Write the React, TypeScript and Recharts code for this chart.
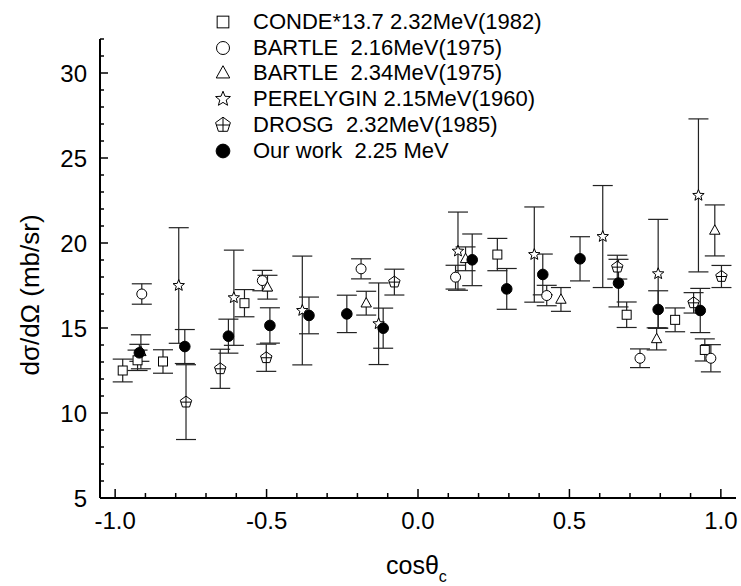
import { ScatterChart, Scatter, XAxis, YAxis, ErrorBar, Legend } from "recharts";

const FONT = '"Liberation Sans", Arial, Helvetica, sans-serif';

// [cosθc, dσ/dΩ (mb/sr), error]
const CONDE: [number, number, number][] = [
  [-0.975, 12.5, 0.67], [-0.926, 13.1, 0.6], [-0.842, 13.03, 0.69], [-0.573, 16.46, 0.8],
  [0.262, 19.32, 0.95], [0.689, 15.78, 0.75], [0.849, 15.48, 0.7], [0.947, 13.71, 0.65],
];
const BARTLE_216: [number, number, number][] = [
  [-0.912, 17.0, 0.6], [-0.514, 17.79, 0.6], [-0.188, 18.48, 0.59], [0.124, 17.99, 0.7],
  [0.425, 16.91, 0.6], [0.733, 13.22, 0.55], [0.967, 13.22, 0.8],
];
const BARTLE_234: [number, number, number][] = [
  [-0.915, 13.6, 1.0], [-0.497, 17.4, 0.7], [-0.171, 16.46, 0.7], [0.157, 19.07, 0.7],
  [0.472, 16.68, 0.7], [0.788, 14.36, 0.65], [0.98, 20.74, 1.5],
];
const PERELYGIN: [number, number, number][] = [
  [-0.79, 17.5, 3.4], [-0.608, 16.78, 2.8], [-0.382, 16.03, 3.2], [-0.13, 15.25, 2.4],
  [0.132, 19.52, 2.3], [0.384, 19.32, 2.8], [0.61, 20.38, 3.0], [0.793, 18.19, 3.2],
  [0.926, 22.8, 4.5],
];
const DROSG: [number, number, number][] = [
  [-0.766, 10.64, 2.2], [-0.653, 12.6, 1.15], [-0.501, 13.25, 0.8], [-0.078, 17.7, 0.76],
  [0.658, 18.58, 0.7], [0.91, 16.48, 0.6], [1.002, 18.03, 0.65],
];
const OUR_WORK: [number, number, number][] = [
  [-0.92, 13.54, 0.5], [-0.77, 13.91, 1.0], [-0.626, 14.52, 1.0], [-0.489, 15.15, 1.04],
  [-0.36, 15.74, 1.08], [-0.235, 15.83, 1.1], [-0.115, 14.99, 1.18], [0.179, 19.01, 1.52],
  [0.293, 17.3, 1.2], [0.412, 18.15, 1.2], [0.535, 19.07, 1.3], [0.662, 17.64, 1.4],
  [0.793, 16.09, 1.1], [0.932, 16.03, 1.3],
];

const xTicks = [
  -1, -0.9, -0.8, -0.7, -0.6, -0.5, -0.4, -0.3, -0.2, -0.1, 0,
  0.1, 0.2, 0.3, 0.4, 0.5, 0.6, 0.7, 0.8, 0.9, 1,
];
const yTicks = [
  5, 6, 7, 8, 9, 10, 11, 12, 13, 14, 15, 16, 17, 18, 19, 20,
  21, 22, 23, 24, 25, 26, 27, 28, 29, 30, 31, 32,
];

type Kind = "square" | "circle" | "triangle" | "star" | "pentagon" | "dot";

const SERIES: { name: string; kind: Kind; rows: [number, number, number][] }[] = [
  { name: "CONDE*13.7 2.32MeV(1982)", kind: "square", rows: CONDE },
  { name: "BARTLE  2.16MeV(1975)", kind: "circle", rows: BARTLE_216 },
  { name: "BARTLE  2.34MeV(1975)", kind: "triangle", rows: BARTLE_234 },
  { name: "PERELYGIN 2.15MeV(1960)", kind: "star", rows: PERELYGIN },
  { name: "DROSG  2.32MeV(1985)", kind: "pentagon", rows: DROSG },
  { name: "Our work  2.25 MeV", kind: "dot", rows: OUR_WORK },
];

function polyPoints(cx: number, cy: number, n: number, R: number, r?: number) {
  const pts: string[] = [];
  const count = r ? n * 2 : n;
  for (let i = 0; i < count; i++) {
    const a = ((-90 + (i * 360) / count) * Math.PI) / 180;
    const rad = r && i % 2 === 1 ? r : R;
    pts.push(`${(cx + rad * Math.cos(a)).toFixed(2)},${(cy + rad * Math.sin(a)).toFixed(2)}`);
  }
  return pts.join(" ");
}

function marker(kind: Kind, cx: number, cy: number, k = 1) {
  const sw = 1;
  switch (kind) {
    case "square":
      return <rect x={cx - 4.5 * k} y={cy - 4.5 * k} width={9 * k} height={9 * k} fill="#fff" stroke="#000" strokeWidth={sw} />;
    case "circle":
      return <circle cx={cx} cy={cy} r={5 * k} fill="#fff" stroke="#000" strokeWidth={sw} />;
    case "triangle":
      return (
        <polygon
          points={`${cx},${cy - 5.6 * k} ${cx - 5.2 * k},${cy + 3.8 * k} ${cx + 5.2 * k},${cy + 3.8 * k}`}
          fill="#fff" stroke="#000" strokeWidth={sw}
        />
      );
    case "star":
      return <polygon points={polyPoints(cx, cy, 5, 6 * k, 2.6 * k)} fill="#fff" stroke="#000" strokeWidth={sw} />;
    case "pentagon":
      return (
        <g>
          <polygon points={polyPoints(cx, cy, 5, 6 * k)} fill="#fff" stroke="#000" strokeWidth={sw} />
          <line x1={cx - 5.1 * k} x2={cx + 5.1 * k} y1={cy} y2={cy} stroke="#000" strokeWidth={sw} />
          <line x1={cx} x2={cx} y1={cy - 6 * k} y2={cy + 4.85 * k} stroke="#000" strokeWidth={sw} />
        </g>
      );
    default:
      return <circle cx={cx} cy={cy} r={5.3 * k} fill="#000" stroke="#000" strokeWidth={sw} />;
  }
}

const XTick = (props: any) => {
  const { x, y, payload } = props;
  const v = payload.value as number;
  const major = Math.abs(v * 2 - Math.round(v * 2)) < 1e-6;
  return (
    <g>
      <line x1={x} x2={x} y1={y} y2={y - (major ? 9 : 5)} stroke="#000" strokeWidth={1.5} />
      {major && (
        <text x={x} y={y + 31} textAnchor="middle" fontSize={24} fontFamily={FONT} fill="#000">
          {v.toFixed(1)}
        </text>
      )}
    </g>
  );
};

const YTick = (props: any) => {
  const { x, y, payload } = props;
  const v = payload.value as number;
  const major = v % 5 === 0;
  return (
    <g>
      <line x1={x} x2={x + (major ? 8 : 4)} y1={y} y2={y} stroke="#000" strokeWidth={1.5} />
      {major && (
        <text x={x - 13} y={y + 8.6} textAnchor="end" fontSize={24} fontFamily={FONT} fill="#000">
          {v}
        </text>
      )}
    </g>
  );
};

const renderLegend = () => (
  <div style={{ fontFamily: FONT, fontSize: 22, color: "#000" }}>
    {SERIES.map((s) => (
      <div key={s.name} style={{ display: "flex", alignItems: "center", height: 25.8, whiteSpace: "pre" }}>
        <svg width={22} height={22} style={{ flex: "none" }}>
          {marker(s.kind, 11, 11, 1.3)}
        </svg>
        <span style={{ marginLeft: 19, lineHeight: "22px" }}>{s.name}</span>
      </div>
    ))}
  </div>
);

export default function App() {
  return (
    <div style={{ position: "absolute", left: 0, top: 0, background: "#fff" }}>
      <ScatterChart width={741} height={586} margin={{ top: 39, right: 5, bottom: 0, left: 0 }}>
        <XAxis
          type="number"
          dataKey="x"
          domain={[-1.05, 1.05]}
          ticks={xTicks}
          interval={0}
          allowDataOverflow
          height={88}
          tickSize={0}
          tickMargin={0}
          tickLine={false}
          axisLine={{ stroke: "#000", strokeWidth: 2 }}
          tick={XTick}
          label={{
            content: () => (
              <text x={386} y={574} fontSize={25} fontFamily={FONT} fill="#000">
                cosθ
                <tspan dy={8} fontSize={16}>c</tspan>
              </text>
            ),
          }}
        />
        <YAxis
          type="number"
          dataKey="y"
          domain={[5, 32]}
          ticks={yTicks}
          interval={0}
          allowDataOverflow
          width={100}
          tickSize={0}
          tickMargin={0}
          tickLine={false}
          axisLine={{ stroke: "#000", strokeWidth: 2 }}
          tick={YTick}
          label={{
            content: () => (
              <text
                x={39}
                y={295}
                transform="rotate(-90, 39, 295)"
                textAnchor="middle"
                fontSize={26}
                fontFamily={FONT}
                fill="#000"
              >
                dσ/dΩ (mb/sr)
              </text>
            ),
          }}
        />
        <Legend
          layout="vertical"
          align="center"
          verticalAlign="middle"
          wrapperStyle={{ left: 212, top: 9, width: 420 }}
          content={renderLegend}
        />
        {SERIES.map((s) => (
          <Scatter
            key={s.name}
            name={s.name}
            data={s.rows.map(([x, y, e]) => ({ x, y, e }))}
            isAnimationActive={false}
            shape={(p: any) => marker(s.kind, p.cx, p.cy)}
          >
            <ErrorBar dataKey="e" direction="y" width={10} stroke="#222" strokeWidth={1.2} />
          </Scatter>
        ))}
      </ScatterChart>
    </div>
  );
}
